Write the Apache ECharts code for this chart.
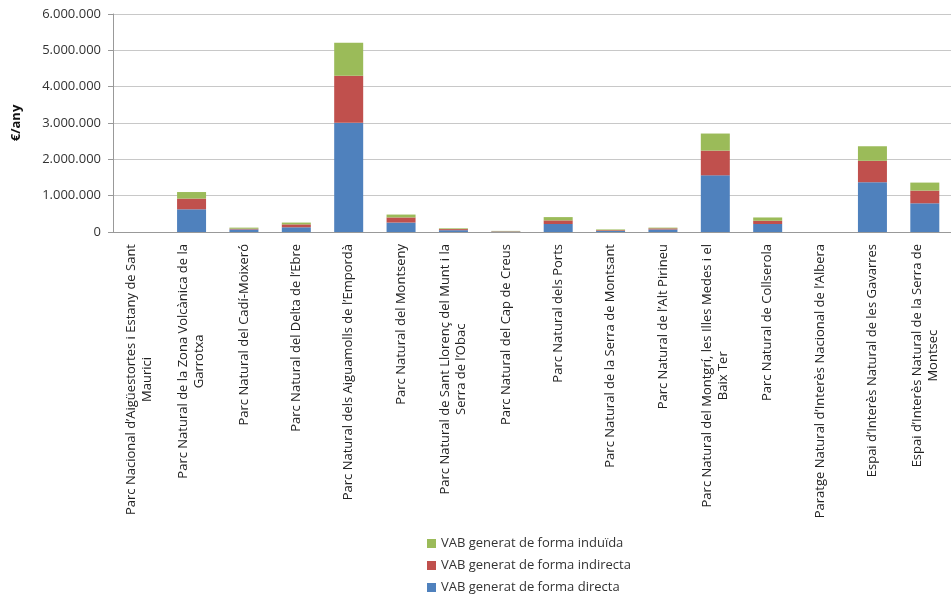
<!DOCTYPE html>
<html>
<head>
<meta charset="utf-8">
<script src="https://cdn.jsdelivr.net/npm/echarts@6/dist/echarts.min.js"></script>
<style>html,body{margin:0;padding:0;background:#fff}#c{width:951px;height:595px}</style>
</head>
<body>
<div id="c"></div>
<script>
const categories = [
  "Parc Nacional d’Aigüestortes i Estany de Sant\nMaurici",
  "Parc Natural de la Zona Volcànica de la\nGarrotxa",
  "Parc Natural del Cadí-Moixeró",
  "Parc Natural del Delta de l’Ebre",
  "Parc Natural dels Aiguamolls de l’Empordà",
  "Parc Natural del Montseny",
  "Parc Natural de Sant Llorenç del Munt i la\nSerra de l’Obac",
  "Parc Natural del Cap de Creus",
  "Parc Natural dels Ports",
  "Parc Natural de la Serra de Montsant",
  "Parc Natural de l’Alt Pirineu",
  "Parc Natural del Montgrí, les Illes Medes i el\nBaix Ter",
  "Parc Natural de Collserola",
  "Paratge Natural d’Interès Nacional de l’Albera",
  "Espai d’Interès Natural de les Gavarres",
  "Espai d’Interès Natural de la Serra de\nMontsec"
];
const directa   = [0, 625000, 70000, 130000, 3010000, 260000, 50000, 10000, 220000, 30000, 70000, 1560000, 220000, 0, 1370000, 790000];
const indirecta = [0, 295000, 20000, 80000, 1290000, 140000, 30000, 10000, 100000, 20000, 30000, 680000, 90000, 0, 590000, 350000];
const induida   = [0, 180000, 30000, 50000, 910000, 80000, 20000, 10000, 90000, 20000, 20000, 470000, 90000, 0, 400000, 220000];
const seriesNames = ["VAB generat de forma directa", "VAB generat de forma indirecta", "VAB generat de forma induïda"];
const legendOrder = ["VAB generat de forma induïda", "VAB generat de forma indirecta", "VAB generat de forma directa"];
const yTicks = [0, 1000000, 2000000, 3000000, 4000000, 5000000, 6000000];

const FONT = "Open Sans";
const chart = echarts.init(document.getElementById('c'));
function fmt(v){ return String(v).replace(/\B(?=(\d{3})+(?!\d))/g, '.'); }
chart.setOption({
  animation: false,
  textStyle: { fontFamily: FONT },
  grid: { left: 113, right: -9, top: 14, bottom: 363, containLabel: false },
  legend: {
    orient: 'vertical', left: 422, top: 530, height: 120,
    itemWidth: 9, itemHeight: 9, itemGap: 5,
    icon: 'rect',
    data: legendOrder,
    textStyle: { fontFamily: FONT, fontSize: 13, color: '#333', lineHeight: 17 }
  },
  xAxis: {
    type: 'category', data: categories,
    axisLine: { lineStyle: { color: '#999' } },
    axisTick: { show: false },
    axisLabel: {
      interval: 0, rotate: 90, margin: 12,
      fontFamily: FONT, fontSize: 13, color: '#222', lineHeight: 16,
      formatter: function (v) { return v.split('\n').map(s => '{c|' + s + '}').join('\n'); },
      rich: { c: { align: 'center', fontFamily: FONT, fontSize: 13, color: '#222', lineHeight: 16 } }
    }
  },
  yAxis: {
    type: 'value', min: 0, max: 6000000, interval: 1000000,
    name: '€/any', nameLocation: 'middle', nameGap: 90, nameRotate: 90,
    nameTextStyle: { fontFamily: FONT, fontSize: 13, fontWeight: 'bold', color: '#111' },
    axisLine: { show: true, lineStyle: { color: '#999' } },
    axisTick: { show: true, length: 5, lineStyle: { color: '#999' } },
    splitLine: { lineStyle: { color: '#c8c8c8' } },
    axisLabel: { margin: 12, fontFamily: FONT, fontSize: 13, color: '#333',
      formatter: function (v) { return yTicks.indexOf(v) >= 0 ? fmt(v) : ''; } }
  },
  series: [
    { name: seriesNames[0], type: 'bar', stack: 't', data: directa, barWidth: 29, itemStyle: { color: '#4F81BD' } },
    { name: seriesNames[1], type: 'bar', stack: 't', data: indirecta, barWidth: 29, itemStyle: { color: '#C0504D' } },
    { name: seriesNames[2], type: 'bar', stack: 't', data: induida, barWidth: 29, itemStyle: { color: '#9BBB59' } }
  ]
});
</script>
</body>
</html>
